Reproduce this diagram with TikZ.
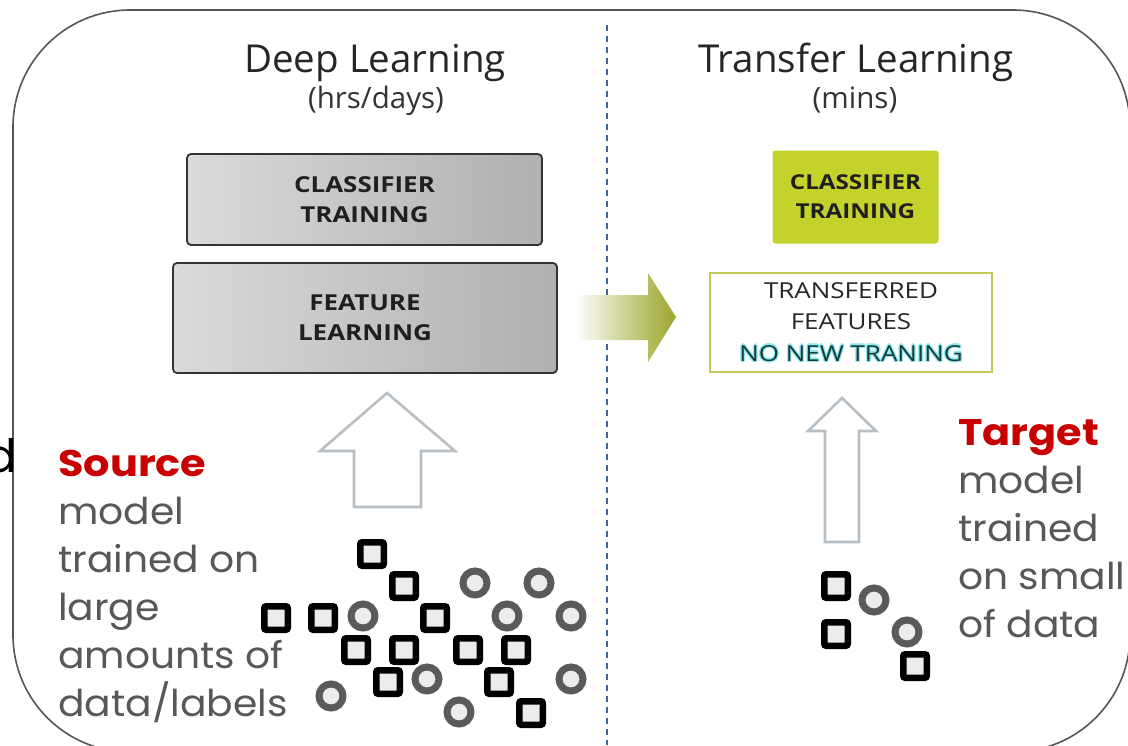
\documentclass[tikz,border=0pt]{standalone}
\usepackage{fontspec}
\setmainfont{Open Sans}
\newfontfamily\boxfont[FakeStretch=1.18]{Open Sans}
\newfontfamily\popf[FakeStretch=1.06]{Poppins}
\newfontfamily\popb[FakeStretch=1.12]{Poppins}
\definecolor{framec}{HTML}{555555}
\definecolor{dashc}{HTML}{3F6590}
\definecolor{boxl}{HTML}{DADADA}
\definecolor{boxr}{HTML}{B0B0B0}
\definecolor{limec}{HTML}{C4D22C}
\definecolor{tfborder}{HTML}{C2C955}
\definecolor{olivec}{HTML}{9AA52A}
\definecolor{arrgray}{HTML}{B8BFC4}
\definecolor{srcred}{HTML}{C80000}
\definecolor{txtgray}{HTML}{585858}
\definecolor{glowc}{HTML}{8FEAF0}
\definecolor{tealtxt}{HTML}{173A3C}
\definecolor{datafill}{HTML}{ECECEC}
\definecolor{ringc}{HTML}{5A5A5A}
\newcommand\glowpart[3]{\makebox[0pt][l]{\hspace{#1}\raisebox{#2}{\textcolor{glowc}{#3}}}}
\newcommand\glowtext[1]{%
  \glowpart{1.3pt}{0pt}{#1}\glowpart{-1.3pt}{0pt}{#1}%
  \glowpart{0pt}{1.3pt}{#1}\glowpart{0pt}{-1.3pt}{#1}%
  \glowpart{0.9pt}{0.9pt}{#1}\glowpart{-0.9pt}{0.9pt}{#1}%
  \glowpart{0.9pt}{-0.9pt}{#1}\glowpart{-0.9pt}{-0.9pt}{#1}%
  \textcolor{tealtxt}{#1}}
\begin{document}
\begin{tikzpicture}[x=1pt,y=-1pt,
  graybox/.style={draw=black!80, line width=1.8pt, rounded corners=4pt,
    left color=boxl, right color=boxr, align=center, inner sep=0pt,
    text=black!88, font=\boxfont\bfseries\fontsize{22}{30}\selectfont},
  limebox/.style={fill=limec, rounded corners=3pt, align=center, inner sep=0pt,
    text=black!88, font=\boxfont\bfseries\fontsize{20.5}{29}\selectfont},
  tfbox/.style={draw=tfborder, line width=1.5pt, fill=white, align=center, inner sep=0pt,
    text=black!85, font=\boxfont\fontsize{22}{31.5}\selectfont},
  title/.style={anchor=base, inner sep=0pt, text=black!85, font=\fontsize{38.5}{44}\selectfont},
  subtitle/.style={anchor=base, inner sep=0pt, text=black!80, font=\fontsize{29.5}{34}\selectfont},
  sidetext/.style={anchor=base west, inner sep=0pt, align=left, text=txtgray,
    font=\popf\fontsize{37}{48}\selectfont},
  uparrow/.style={draw=arrgray, line width=2.6pt, line join=miter, fill=white},
  sq/.style={draw=black, line width=6.5pt, fill=datafill, rounded corners=2pt,
    minimum size=23.5pt, inner sep=0pt},
  ring/.style={circle, draw=ringc, line width=7pt, fill=datafill,
    minimum size=24pt, inner sep=0pt}
]
\clip (0,0) rectangle (1128,745);
\fill[white] (0,0) rectangle (1128,745);
% outer frame
\draw[framec, line width=1.6pt, rounded corners=117pt] (13,10) rectangle (1130,752);
% divider
\draw[dashc, line width=2.4pt, dash pattern=on 6pt off 5pt] (607,25) -- (607,745);
% stray letter at left edge
\node[anchor=base east, inner sep=0pt, text=black, font=\popf\fontsize{46}{50}\selectfont] (frag) at (18,472) {d};
% titles
\node[title] (t1) at (375,72) {Deep Learning};
\node[subtitle] (t1s) at (376,108) {(hrs/days)};
\node[title] (t2) at (856,72) {Transfer Learning};
\node[subtitle] (t2s) at (855,108) {(mins)};
% left boxes
\node[graybox, minimum width=355pt, minimum height=91pt] (cls1) at (364.5,199.5) {CLASSIFIER\\TRAINING};
\node[graybox, minimum width=384pt, minimum height=110pt] (feat1) at (365,318) {FEATURE\\LEARNING};
% right boxes
\node[limebox, minimum width=166pt, minimum height=93pt] (cls2) at (855.5,197) {CLASSIFIER\\TRAINING};
\node[tfbox, minimum width=282pt, minimum height=99pt] (tf) at (851,322.5) {TRANSFERRED\\FEATURES\\\glowtext{NO NEW TRANING}};
% transfer arrow
\shade[left color=white, right color=olivec] (575,295) -- (648,295) -- (648,273) -- (676,317) -- (648,362) -- (648,340) -- (575,340) -- cycle;
% up arrows
\draw[uparrow] (354,507) -- (354,451) -- (320,451) -- (387,393) -- (455,451) -- (421,451) -- (421,507) -- cycle;
\draw[uparrow] (825,542) -- (825,431) -- (808,431) -- (842,398) -- (876,431) -- (859,431) -- (859,542) -- cycle;
% source data
\foreach \x/\y [count=\i] in {372/554, 404/586, 276/618, 323/618, 435/618, 356/650, 404/650, 468/650, 516/650, 388/682, 499/682, 531/713}
  \node[sq] (s\i) at (\x,\y) {};
\foreach \x/\y [count=\i] in {475/583, 539/583, 363/616, 507/616, 571/616, 427/679, 571/679, 331/696, 459/712}
  \node[ring] (c\i) at (\x,\y) {};
% target data
\foreach \x/\y [count=\i] in {836/586, 836/634, 915/666}
  \node[sq] (ts\i) at (\x,\y) {};
\foreach \x/\y [count=\i] in {874/600, 907/632}
  \node[ring] (tc\i) at (\x,\y) {};
% side texts (anchored at the baseline of their last line)
\node[sidetext] (src) at (58,716) {\textcolor{srcred}{\popb\bfseries Source}\\model\\trained on\\large\\amounts of\\data/labels};
\node[sidetext] (tgt) at (958,637) {\textcolor{srcred}{\popb\bfseries Target}\\model\\trained\\on small\\of data};
\end{tikzpicture}
\end{document}
